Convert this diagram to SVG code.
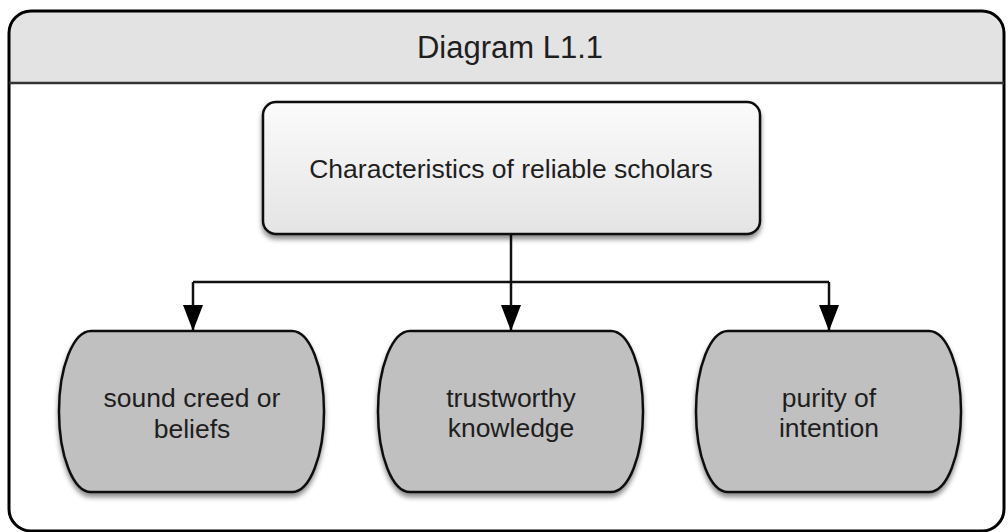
<svg xmlns="http://www.w3.org/2000/svg" width="1008" height="532" viewBox="0 0 1008 532">
  <style>
    .label { font-family: "Liberation Sans", Arial, sans-serif; fill: #1e1e1e; text-anchor: middle; }
    .title { font-size: 31px; }
    .main { font-size: 26.5px; }
    .leaf { font-size: 26.5px; }
    .leafShape { fill: #c0c0c0; stroke: #111; stroke-width: 2.5; filter: url(#shadow); }
    .wire { fill: none; stroke: #111; stroke-width: 2.5; }
  </style>
  <defs>
    <linearGradient id="topFill" x1="0" y1="0" x2="0" y2="1">
      <stop offset="0" stop-color="#fbfbfb"/>
      <stop offset="1" stop-color="#e4e4e4"/>
    </linearGradient>
    <filter id="shadow" x="-10%" y="-10%" width="120%" height="130%">
      <feDropShadow dx="0" dy="4" stdDeviation="2.5" flood-color="#000" flood-opacity="0.45"/>
    </filter>
    <!-- filled triangular head, tip at the end of the line -->
    <marker id="arrow" markerWidth="26" markerHeight="20" refX="26" refY="10" orient="auto" markerUnits="userSpaceOnUse" viewBox="0 0 26 20">
      <path d="M0,0 L26,10 L0,20 Z" fill="#000"/>
    </marker>
  </defs>

  <rect width="1008" height="532" fill="#fff"/>

  <!-- outer frame with header band -->
  <g id="frame">
    <path d="M9,83 V33 Q9,11 31,11 H982 Q1004,11 1004,33 V83 Z" fill="#e3e3e3"/>
    <rect x="9" y="11" width="995" height="520" rx="22" ry="22" fill="none" stroke="#000" stroke-width="3"/>
    <line x1="9" y1="83" x2="1004" y2="83" stroke="#333" stroke-width="2.5"/>
    <text class="label title" x="510" y="58">Diagram L1.1</text>
  </g>

  <!-- connectors -->
  <g id="connectors">
    <line class="wire" x1="511" y1="234" x2="511" y2="282"/>
    <line class="wire" x1="193" y1="282" x2="829" y2="282"/>
    <line class="wire" x1="193" y1="282" x2="193" y2="331" marker-end="url(#arrow)"/>
    <line class="wire" x1="511" y1="282" x2="511" y2="331" marker-end="url(#arrow)"/>
    <line class="wire" x1="829" y1="282" x2="829" y2="331" marker-end="url(#arrow)"/>
  </g>

  <!-- root node -->
  <g id="node-root">
    <rect x="263" y="102" width="497" height="132" rx="13" ry="13" fill="url(#topFill)" stroke="#111" stroke-width="2.5" filter="url(#shadow)"/>
    <text class="label main" x="511" y="178">Characteristics of reliable scholars</text>
  </g>

  <!-- leaf nodes: flat top and bottom, elliptical sides -->
  <g id="node-creed">
    <path class="leafShape" d="M91,331 H292 C309.6,331 324,367 324,411.5 C324,456 309.6,492 292,492 H91 C73.4,492 59,456 59,411.5 C59,367 73.4,331 91,331 Z"/>
    <text class="label leaf" x="192" y="407">sound creed or</text>
    <text class="label leaf" x="192" y="438">beliefs</text>
  </g>

  <g id="node-knowledge">
    <path class="leafShape" d="M410,331 H611 C628.6,331 643,367 643,411.5 C643,456 628.6,492 611,492 H410 C392.4,492 378,456 378,411.5 C378,367 392.4,331 410,331 Z"/>
    <text class="label leaf" x="511" y="407">trustworthy</text>
    <text class="label leaf" x="511" y="437">knowledge</text>
  </g>

  <g id="node-intention">
    <path class="leafShape" d="M728,331 H929 C946.6,331 961,367 961,411.5 C961,456 946.6,492 929,492 H728 C710.4,492 696,456 696,411.5 C696,367 710.4,331 728,331 Z"/>
    <text class="label leaf" x="829" y="407">purity of</text>
    <text class="label leaf" x="829" y="437">intention</text>
  </g>
</svg>
